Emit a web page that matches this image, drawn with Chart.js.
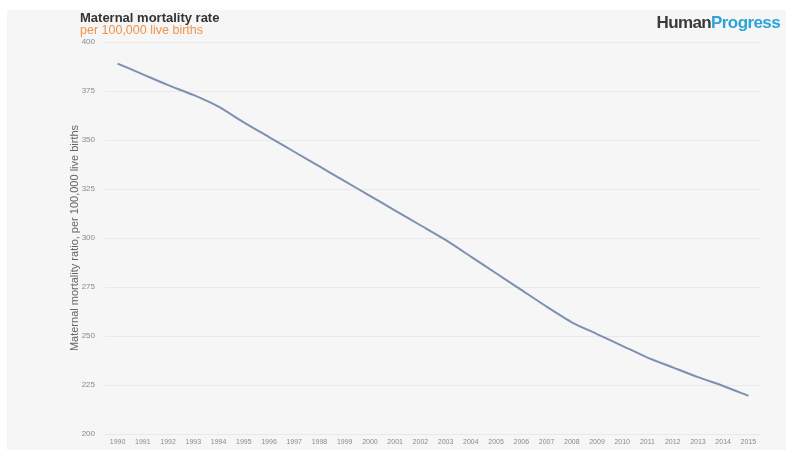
<!DOCTYPE html>
<html>
<head>
<meta charset="utf-8">
<script src="https://cdn.jsdelivr.net/npm/chart.js@4"></script>
<style>
  html, body { margin: 0; padding: 0; background: #ffffff; }
  body { width: 786px; height: 450px; position: relative; overflow: hidden; font-family: "Liberation Sans", Arial, sans-serif; }
  #panel { position: absolute; left: 7px; top: 10px; width: 779px; height: 440px; background: #f6f6f6; }
  #chart { position: absolute; left: 0; top: 0; }
  .title { position: absolute; left: 73px; top: 0px; font-size: 13px; line-height: 15px; font-weight: bold; color: #333; }
  .subtitle { position: absolute; left: 73px; top: 13px; font-size: 12.5px; line-height: 14px; color: #f0924a; }
  .logo { position: absolute; right: 6px; top: 3px; font-size: 17px; font-weight: bold; letter-spacing: -0.6px; }
  .logo .a { color: #3a3a3a; }
  .logo .b { color: #2aa3d8; }
</style>
</head>
<body>
<div id="panel">
  <canvas id="chart" width="779" height="440"></canvas>
  <div class="title">Maternal mortality rate</div>
  <div class="subtitle">per 100,000 live births</div>
  <div class="logo"><span class="a">Human</span><span class="b">Progress</span></div>
</div>
<script>
// Years on the horizontal axis
const years = [
  '1990','1991','1992','1993','1994','1995','1996','1997','1998','1999',
  '2000','2001','2002','2003','2004','2005','2006','2007','2008','2009',
  '2010','2011','2012','2013','2014','2015'
];

// Maternal deaths per 100,000 live births
const mmr = [
  389, 383.5, 378, 373, 367, 359, 351.5, 344, 336.5, 329,
  321.5, 314, 306.5, 299, 290.5, 282, 273.5, 265, 257, 251,
  245, 239, 234, 229, 224.5, 219.5
];

// Value axis ticks
const yTicks = [200, 225, 250, 275, 300, 325, 350, 375, 400];

const yTitle = 'Maternal mortality ratio, per 100,000 live births';

new Chart(document.getElementById('chart'), {
  type: 'line',
  data: {
    labels: years,
    datasets: [{
      label: 'Maternal mortality rate',
      data: mmr,
      borderColor: '#7d90b2',
      borderWidth: 2,
      pointRadius: 0,
      tension: 0.2,
      fill: false
    }]
  },
  options: {
    responsive: false,
    animation: false,
    layout: { padding: { left: 61, right: 25, top: 32, bottom: 0 } },
    plugins: {
      legend: { display: false },
      tooltip: { enabled: false }
    },
    scales: {
      x: {
        offset: true,
        grid: { display: false, drawTicks: false },
        border: { display: false },
        ticks: {
          autoSkip: false,
          maxRotation: 0,
          minRotation: 0,
          color: '#8a8a8a',
          font: { size: 7, family: 'Liberation Sans' },
          padding: 4
        },
        afterFit: (s) => { s.height = 16; }
      },
      y: {
        min: 200,
        max: 400,
        afterBuildTicks: (s) => { s.ticks = yTicks.map(v => ({ value: v })); },
        grid: { color: '#e9e9e9', lineWidth: 1, drawTicks: false },
        border: { display: false },
        ticks: {
          color: '#8a8a8a',
          font: { size: 8, family: 'Liberation Sans' },
          padding: 10
        },
        title: {
          display: true,
          text: yTitle,
          color: '#666',
          font: { size: 11, family: 'Liberation Sans' },
          padding: 0
        },
        afterFit: (s) => { s.width = 37; }
      }
    }
  }
});
</script>
</body>
</html>
